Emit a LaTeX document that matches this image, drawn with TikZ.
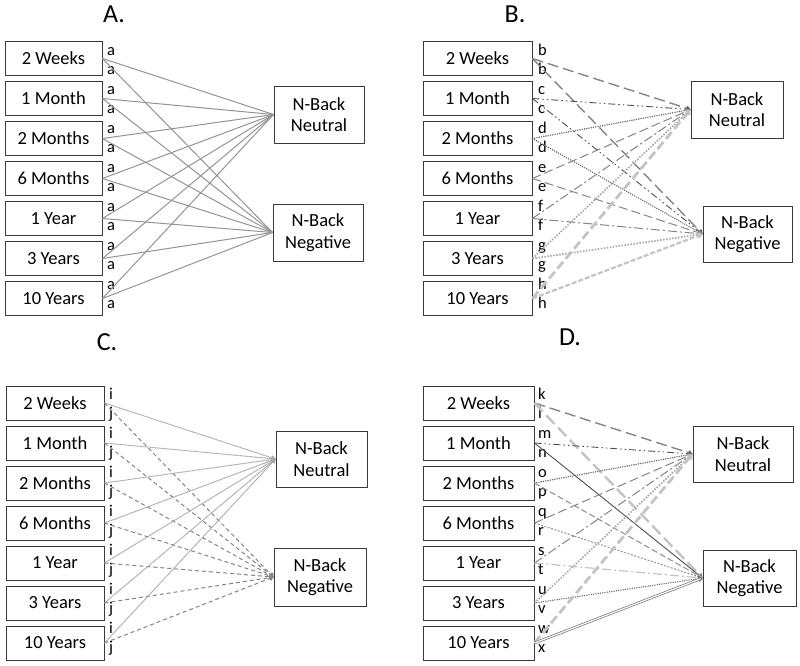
\documentclass[tikz,border=0pt]{standalone}
\usepackage{fontspec}
\setmainfont{Carlito}
\usetikzlibrary{arrows.meta}
\definecolor{bx}{HTML}{3A3A3A}
\definecolor{gA}{HTML}{949494}
\definecolor{gMid}{HTML}{858585}
\definecolor{gDark}{HTML}{505050}
\definecolor{gDot}{HTML}{6A6A6A}
\definecolor{gLight}{HTML}{A8A8A8}
\definecolor{gVLight}{HTML}{C4C4C4}
\tikzset{
  srcbox/.style={draw=bx, line width=0.9pt, minimum height=34pt, inner sep=0pt, font=\fontsize{18.5}{20}\selectfont},
  tgtbox/.style={draw=bx, line width=0.9pt, inner sep=0pt, align=center, font=\fontsize{18.5}{21.5}\selectfont},
  lbl/.style={anchor=base west, inner sep=0pt, font=\fontsize{16.5}{16.5}\selectfont},
  ptitle/.style={inner sep=0pt, font=\fontsize{26}{26}\selectfont},
  tip/.style={-{Straight Barb[length=3pt,width=4.5pt]}},
  alink/.style={draw=gA, line width=1pt},
  ldash/.style={tip, draw=gMid, line width=1.4pt, dash pattern=on 11pt off 5pt},
  ldashlight/.style={tip, draw=gVLight, line width=2.4pt, dash pattern=on 12pt off 5pt},
  ddd/.style={tip, draw=gDark, line width=0.9pt, dash pattern=on 7pt off 3pt on 1.5pt off 3pt on 1.5pt off 3pt},
  rdot/.style={tip, draw=gDot, line width=1.6pt, line cap=round, dash pattern=on 0pt off 2.3pt},
  mdash/.style={tip, draw=gMid, line width=1pt, dash pattern=on 9pt off 4pt},
  ddot/.style={tip, draw=gMid, line width=1pt, dash pattern=on 9pt off 3pt on 2pt off 3pt},
  ddotlight/.style={tip, draw=gVLight, line width=1.2pt, dash pattern=on 9pt off 3pt on 2pt off 3pt},
  lightdot/.style={tip, draw=gLight, line width=1.7pt, dash pattern=on 1.5pt off 1.5pt},
  thickdash/.style={tip, draw=gVLight, line width=2.8pt, dash pattern=on 9pt off 4pt},
  shortdash/.style={tip, draw=gVLight, line width=2.2pt, dash pattern=on 5pt off 2pt},
  cneu/.style={tip, draw=gLight, line width=1pt, dash pattern=on 1.2pt off 0.5pt},
  cneg/.style={tip, draw=gMid, line width=1pt, dash pattern=on 4pt off 3pt},
  solidd/.style={tip, draw=gDark, line width=0.9pt},
  pdash/.style={tip, draw=gA, line width=1.1pt, dash pattern=on 6pt off 3pt},
  fdot/.style={tip, draw=gA, line width=1pt, dash pattern=on 2pt off 1.5pt},
  rdotdark/.style={tip, draw=gDot, line width=1.5pt, line cap=round, dash pattern=on 0pt off 2.3pt},
  dbl/.style={tip, draw=gDark!80, line width=0.7pt, double=white, double distance=1.2pt}
}
\begin{document}
\begin{tikzpicture}[x=1pt,y=-1pt]
\useasboundingbox (0,0) rectangle (800,665);
\fill[white] (0,0) rectangle (800,665);

% titles
\node[ptitle] (tA) at (114,14) {A.};
\node[ptitle] (tB) at (515,14) {B.};
\node[ptitle] (tC) at (107,342) {C.};
\node[ptitle] (tD) at (570,337) {D.};

% source boxes
\foreach \t [count=\i from 0] in {2 Weeks,1 Month,2 Months,6 Months,1 Year,3 Years,10 Years}{
  \node[srcbox, minimum width=97pt] (A\i) at (53.5,{58.5+40*\i}) {\t};
  \node[srcbox, minimum width=109pt] (B\i) at (477.5,{58.5+40*\i}) {\t};
  \node[srcbox, minimum width=98pt] (C\i) at (55,{403+40*\i}) {\t};
  \node[srcbox, minimum width=111pt] (D\i) at (478.5,{403+40*\i}) {\t};
}

% target boxes
\node[tgtbox, minimum width=90pt, minimum height=57pt] (AN) at (319,114.5) {N-Back\\Neutral};
\node[tgtbox, minimum width=90pt, minimum height=57pt] (AG) at (318,232.5) {N-Back\\Negative};
\node[tgtbox, minimum width=92pt, minimum height=57pt] (BN) at (737,109.5) {N-Back\\Neutral};
\node[tgtbox, minimum width=89pt, minimum height=56pt] (BG) at (747.5,234) {N-Back\\Negative};
\node[tgtbox, minimum width=91pt, minimum height=56pt] (CN) at (321.5,459) {N-Back\\Neutral};
\node[tgtbox, minimum width=92pt, minimum height=58pt] (CG) at (320,577) {N-Back\\Negative};
\node[tgtbox, minimum width=100pt, minimum height=56pt] (DN) at (743,454) {N-Back\\Neutral};
\node[tgtbox, minimum width=93pt, minimum height=56pt] (DG) at (749.5,578) {N-Back\\Negative};

% letters
\foreach \l [count=\k from 0] in {a,a,a,a,a,a,a,a,a,a,a,a,a,a}
  \node[lbl] (La\k) at (107,{55+19.5*\k}) {\l};
\foreach \l [count=\k from 0] in {b,b,c,c,d,d,e,e,f,f,g,g,h,h}
  \node[lbl] (Lb\k) at (538,{55+19.5*\k}) {\l};
\foreach \l [count=\k from 0] in {i,j,i,j,i,j,i,j,i,j,i,j,i,j}
  \node[lbl] (Lc\k) at (109,{399+19.5*\k}) {\l};
\foreach \l [count=\k from 0] in {k,l,m,n,o,p,q,r,s,t,u,v,w,x}
  \node[lbl] (Ld\k) at (538,{399+19.5*\k}) {\l};

% panel A
\foreach \i in {0,...,6}{
  \draw[alink] (A\i.east) -- (AN.west);
  \draw[alink] (A\i.east) -- (AG.west);
}

% panel B
\draw[ldash] (B0.east) -- (BN.west);
\draw[ldash] (B0.east) -- (BG.west);
\draw[ddd] (B1.east) -- (BN.west);
\draw[ddd] (B1.east) -- (BG.west);
\draw[rdot] (B2.east) -- (BN.west);
\draw[rdot] (B2.east) -- (BG.west);
\draw[mdash] (B3.east) -- (BN.west);
\draw[mdash] (B3.east) -- (BG.west);
\draw[ddot] (B4.east) -- (BN.west);
\draw[ddot] (B4.east) -- (BG.west);
\draw[lightdot] (B5.east) -- (BN.west);
\draw[lightdot] (B5.east) -- (BG.west);
\draw[thickdash] (B6.east) -- (BN.west);
\draw[shortdash] (B6.east) -- (BG.west);

% panel C
\foreach \i in {0,...,6}{
  \draw[cneu] (C\i.east) -- (CN.west);
  \draw[cneg] (C\i.east) -- (CG.west);
}

% panel D
\draw[ldash] (D0.east) -- (DN.west);
\draw[ldashlight] (D0.east) -- (DG.west);
\draw[ddd] (D1.east) -- (DN.west);
\draw[solidd] (D1.east) -- (DG.west);
\draw[rdot] (D2.east) -- (DN.west);
\draw[pdash] (D2.east) -- (DG.west);
\draw[mdash] (D3.east) -- (DN.west);
\draw[fdot] (D3.east) -- (DG.west);
\draw[ddot] (D4.east) -- (DN.west);
\draw[ddotlight] (D4.east) -- (DG.west);
\draw[lightdot] (D5.east) -- (DN.west);
\draw[rdotdark] (D5.east) -- (DG.west);
\draw[thickdash] (D6.east) -- (DN.west);
\draw[dbl] (D6.east) -- (DG.west);
\end{tikzpicture}
\end{document}
